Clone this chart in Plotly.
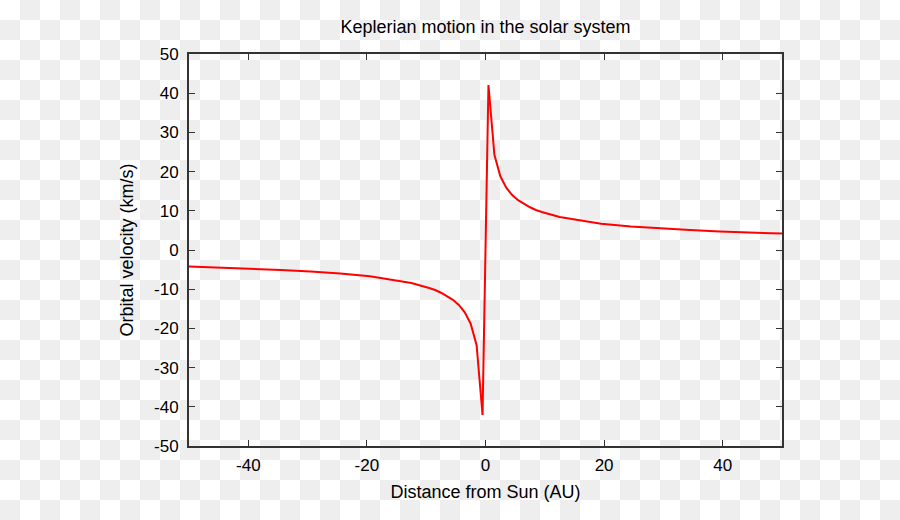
import base64
import plotly.graph_objs as go

# distance from the Sun (AU) and orbital velocity (km/s)
distance = [-50, -44.5, -39.5, -34.5, -29.5, -24.5, -19.5, -15.5, -12.5, -9.5,
            -8.5, -7.5, -6.5, -5.5, -4.5, -3.5, -2.5, -1.5, -0.5,
            0.5, 1.5, 2.5, 3.5, 4.5, 5.5, 6.5, 7.5, 8.5,
            9.5, 12.5, 15.5, 19.5, 24.5, 29.5, 34.5, 39.5, 44.5, 50]
velocity = [-4.2, -4.5, -4.7, -5.1, -5.5, -6.0, -6.7, -7.6, -8.4, -9.7,
            -10.2, -10.9, -11.7, -12.7, -14.0, -15.9, -18.8, -24.3, -42.1,
            42.1, 24.3, 18.8, 15.9, 14.0, 12.7, 11.7, 10.9, 10.2,
            9.7, 8.4, 7.6, 6.7, 6.0, 5.5, 5.1, 4.7, 4.5, 4.2]

x_ticks = [-40, -20, 0, 20, 40]
y_ticks = [-50, -40, -30, -20, -10, 0, 10, 20, 30, 40, 50]

W, H = 900, 520
L, R, T, B = 189, 118, 54, 74
pw, ph = W - L - R, H - T - B

# checkerboard backdrop (20px squares) as an inline svg
svg = ('<svg xmlns="http://www.w3.org/2000/svg" width="%d" height="%d">'
       '<defs><pattern id="c" width="40" height="40" patternUnits="userSpaceOnUse">'
       '<rect width="40" height="40" fill="#ffffff"/>'
       '<rect x="20" y="0" width="20" height="20" fill="#eeeeee"/>'
       '<rect x="0" y="20" width="20" height="20" fill="#eeeeee"/>'
       '</pattern></defs><rect width="%d" height="%d" fill="url(#c)"/></svg>') % (W, H, W, H)
bg_src = "data:image/svg+xml;base64," + base64.b64encode(svg.encode()).decode()

family = "Liberation Sans, Arial, sans-serif"
tick_font = dict(family=family, size=17, color="#000000")
label_font = dict(family=family, size=18, color="#000000")

fig = go.Figure()
fig.add_trace(go.Scatter(x=distance, y=velocity, mode="lines",
                         line=dict(color="#ff0000", width=2),
                         showlegend=False, hoverinfo="x+y"))

axis_style = dict(showline=True, linecolor="#333333", linewidth=2, mirror="ticks",
                  ticks="inside", ticklen=6, tickwidth=1, tickcolor="#333333",
                  showgrid=False, zeroline=False, tickfont=tick_font)

fig.update_layout(
    width=W, height=H,
    margin=dict(l=L, r=R, t=T, b=B, pad=0),
    paper_bgcolor="#ffffff",
    plot_bgcolor="rgba(0,0,0,0)",
    font=label_font,
    title=dict(text="Keplerian motion in the solar system", x=(L + pw / 2) / W,
               xanchor="center", y=1 - 27 / H, yanchor="middle", font=label_font),
    xaxis=dict(range=[-50, 50], tickvals=x_ticks, ticktext=[str(v) for v in x_ticks],
               ticklabelstandoff=3,
               title=dict(text="Distance from Sun (AU)", font=label_font, standoff=11),
               **axis_style),
    yaxis=dict(range=[-50, 50], tickvals=y_ticks, ticktext=[str(v) for v in y_ticks],
               ticklabelstandoff=5,
               title=dict(text="Orbital velocity (km/s)", font=label_font, standoff=16),
               **axis_style),
    images=[dict(source=bg_src, xref="paper", yref="paper",
                 x=-L / pw, y=1 + T / ph, sizex=W / pw, sizey=H / ph,
                 xanchor="left", yanchor="top", sizing="stretch", layer="below")],
)

# page body has a default 8px margin; drop it so the figure sits at (0, 0)
fig.write_html("out.html", config={"displayModeBar": False},
               post_script="document.body.style.margin='0';")
